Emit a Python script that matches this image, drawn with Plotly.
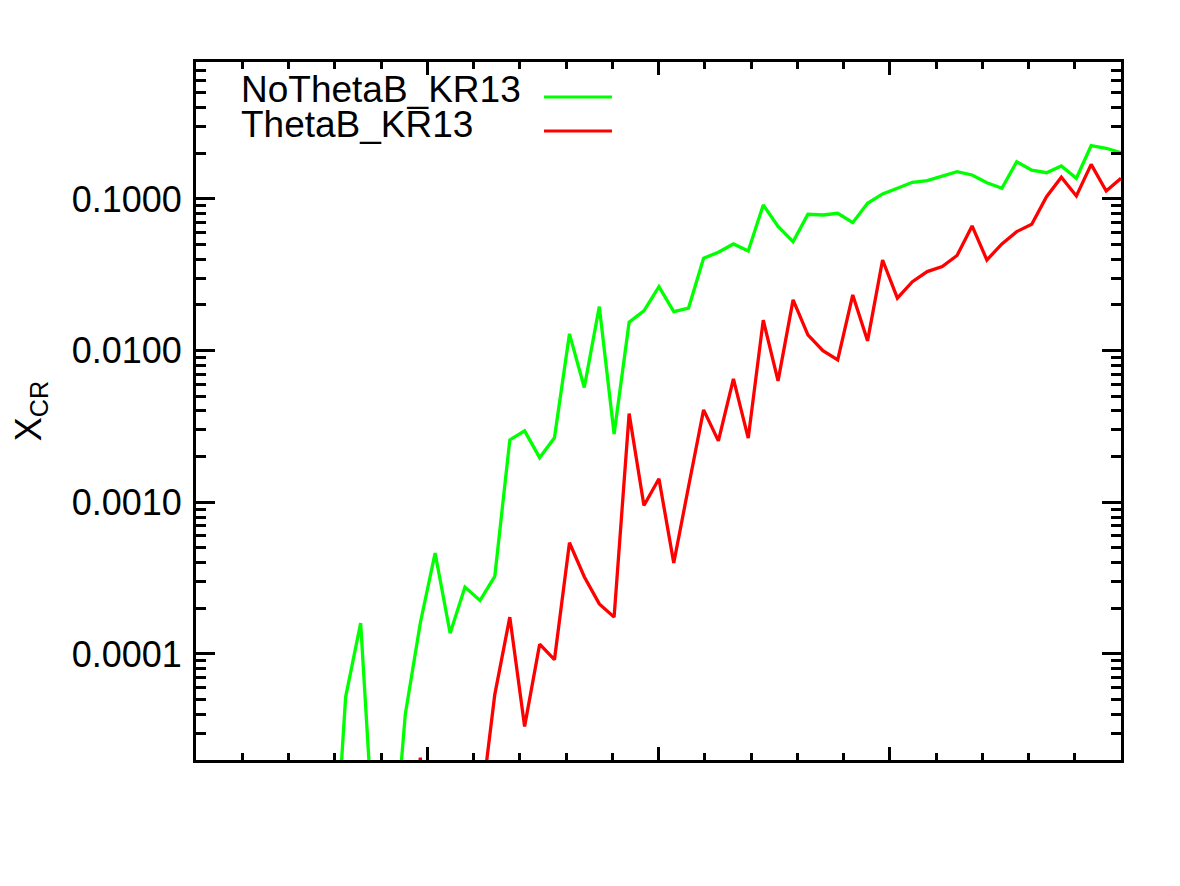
import plotly.graph_objects as go

# x positions of the samples (axis has no labels; range 0..4)
x_vals = [0.583, 0.647, 0.712, 0.776, 0.841, 0.905, 0.970, 1.034, 1.099, 1.163,
          1.228, 1.292, 1.357, 1.421, 1.486, 1.550, 1.615, 1.679, 1.744, 1.808,
          1.873, 1.937, 2.002, 2.066, 2.130, 2.195, 2.259, 2.324, 2.388, 2.453,
          2.517, 2.582, 2.646, 2.711, 2.775, 2.840, 2.904, 2.969, 3.033, 3.098,
          3.162, 3.227, 3.291, 3.356, 3.420, 3.485, 3.549, 3.614, 3.678, 3.742,
          3.807, 3.871, 3.936, 4.000]

no_theta_b = [1.5e-6, 5.2e-5, 1.6e-4, 3.8e-6, 2.6e-6, 4.0e-5, 1.6e-4, 4.63e-4, 1.37e-4, 2.76e-4,
              2.25e-4, 3.25e-4, 2.58e-3, 2.96e-3, 1.97e-3, 2.66e-3, 1.29e-2, 5.71e-3, 1.95e-2, 2.82e-3,
              1.54e-2, 1.83e-2, 2.64e-2, 1.81e-2, 1.91e-2, 4.07e-2, 4.45e-2, 5.05e-2, 4.54e-2, 9.13e-2,
              6.60e-2, 5.23e-2, 7.93e-2, 7.84e-2, 8.05e-2, 6.98e-2, 9.37e-2, 0.108, 0.1176, 0.1288,
              0.132, 0.1417, 0.1514, 0.1439, 0.128, 0.1176, 0.176, 0.155, 0.149, 0.165,
              0.1369, 0.2245, 0.2158, 0.2018]

theta_b = [1.0e-6, 1.0e-6, 1.0e-6, 1.0e-6, 1.0e-6, 1.0e-6, 2.07e-5, 1.0e-6, 1.0e-6, 1.0e-6,
           8.6e-6, 5.40e-5, 1.75e-4, 3.33e-5, 1.16e-4, 9.17e-5, 5.41e-4, 3.23e-4, 2.14e-4, 1.75e-4,
           3.85e-3, 9.53e-4, 1.43e-3, 3.98e-4, 1.27e-3, 4.07e-3, 2.54e-3, 6.52e-3, 2.65e-3, 1.59e-2,
           6.32e-3, 2.16e-2, 1.27e-2, 1.0e-2, 8.69e-3, 2.33e-2, 1.16e-2, 3.96e-2, 2.22e-2, 2.85e-2,
           3.32e-2, 3.58e-2, 4.24e-2, 6.64e-2, 3.96e-2, 5.05e-2, 6.09e-2, 6.81e-2, 0.1035, 0.139,
           0.1047, 0.169, 0.1129, 0.1369]

series_names = ["NoThetaB_KR13", "ThetaB_KR13"]
series_colors = ["#00ff00", "#ff0000"]

fig = go.Figure()
for vals, name, col in zip([no_theta_b, theta_b], series_names, series_colors):
    fig.add_trace(go.Scatter(x=x_vals, y=vals, mode="lines", name=name,
                             line=dict(color=col, width=3.3), showlegend=False))

FONT = "Liberation Sans, Arial, Helvetica, sans-serif"

# IDL-style legend: text followed by a line sample
leg_y_text = [0.961, 0.911]
leg_y_line = [0.950, 0.901]
for name, col, yt, yl in zip(series_names, series_colors, leg_y_text, leg_y_line):
    fig.add_annotation(xref="paper", yref="paper", x=0.0476, y=yt, xanchor="left",
                       yanchor="middle", text=name, showarrow=False, borderpad=0,
                       font=dict(family=FONT, size=37, color="black"))
    fig.add_shape(type="line", xref="paper", yref="paper", x0=0.3762, x1=0.4497,
                  y0=yl, y1=yl, line=dict(color=col, width=3))

fig.update_layout(
    width=1180, height=886,
    margin=dict(l=196, r=59, t=62, b=126),
    paper_bgcolor="white", plot_bgcolor="white",
    font=dict(family=FONT, size=36, color="black"),
)
fig.update_xaxes(
    range=[0, 4], showgrid=False, zeroline=False, showticklabels=False,
    showline=True, linecolor="black", linewidth=3, mirror="allticks",
    ticks="inside", tick0=0, dtick=1, ticklen=13, tickwidth=2.5, tickcolor="black",
    minor=dict(ticks="inside", dtick=0.2, ticklen=7, tickwidth=2.5, tickcolor="black", showgrid=False),
)
fig.update_yaxes(
    type="log", range=[-4.699, -0.097], showgrid=False, zeroline=False,
    showline=True, linecolor="black", linewidth=3, mirror="allticks",
    ticks="inside", dtick=1, tickformat=".4f", ticklen=19, tickwidth=2.5, tickcolor="black",
    minor=dict(ticks="inside", dtick="D1", ticklen=10, tickwidth=2.5, tickcolor="black", showgrid=False),
    tickfont=dict(size=36), ticklabelstandoff=4,
    title=dict(text="X<sub>CR</sub>", font=dict(size=36), standoff=20),
)

fig.write_html("out.html")
